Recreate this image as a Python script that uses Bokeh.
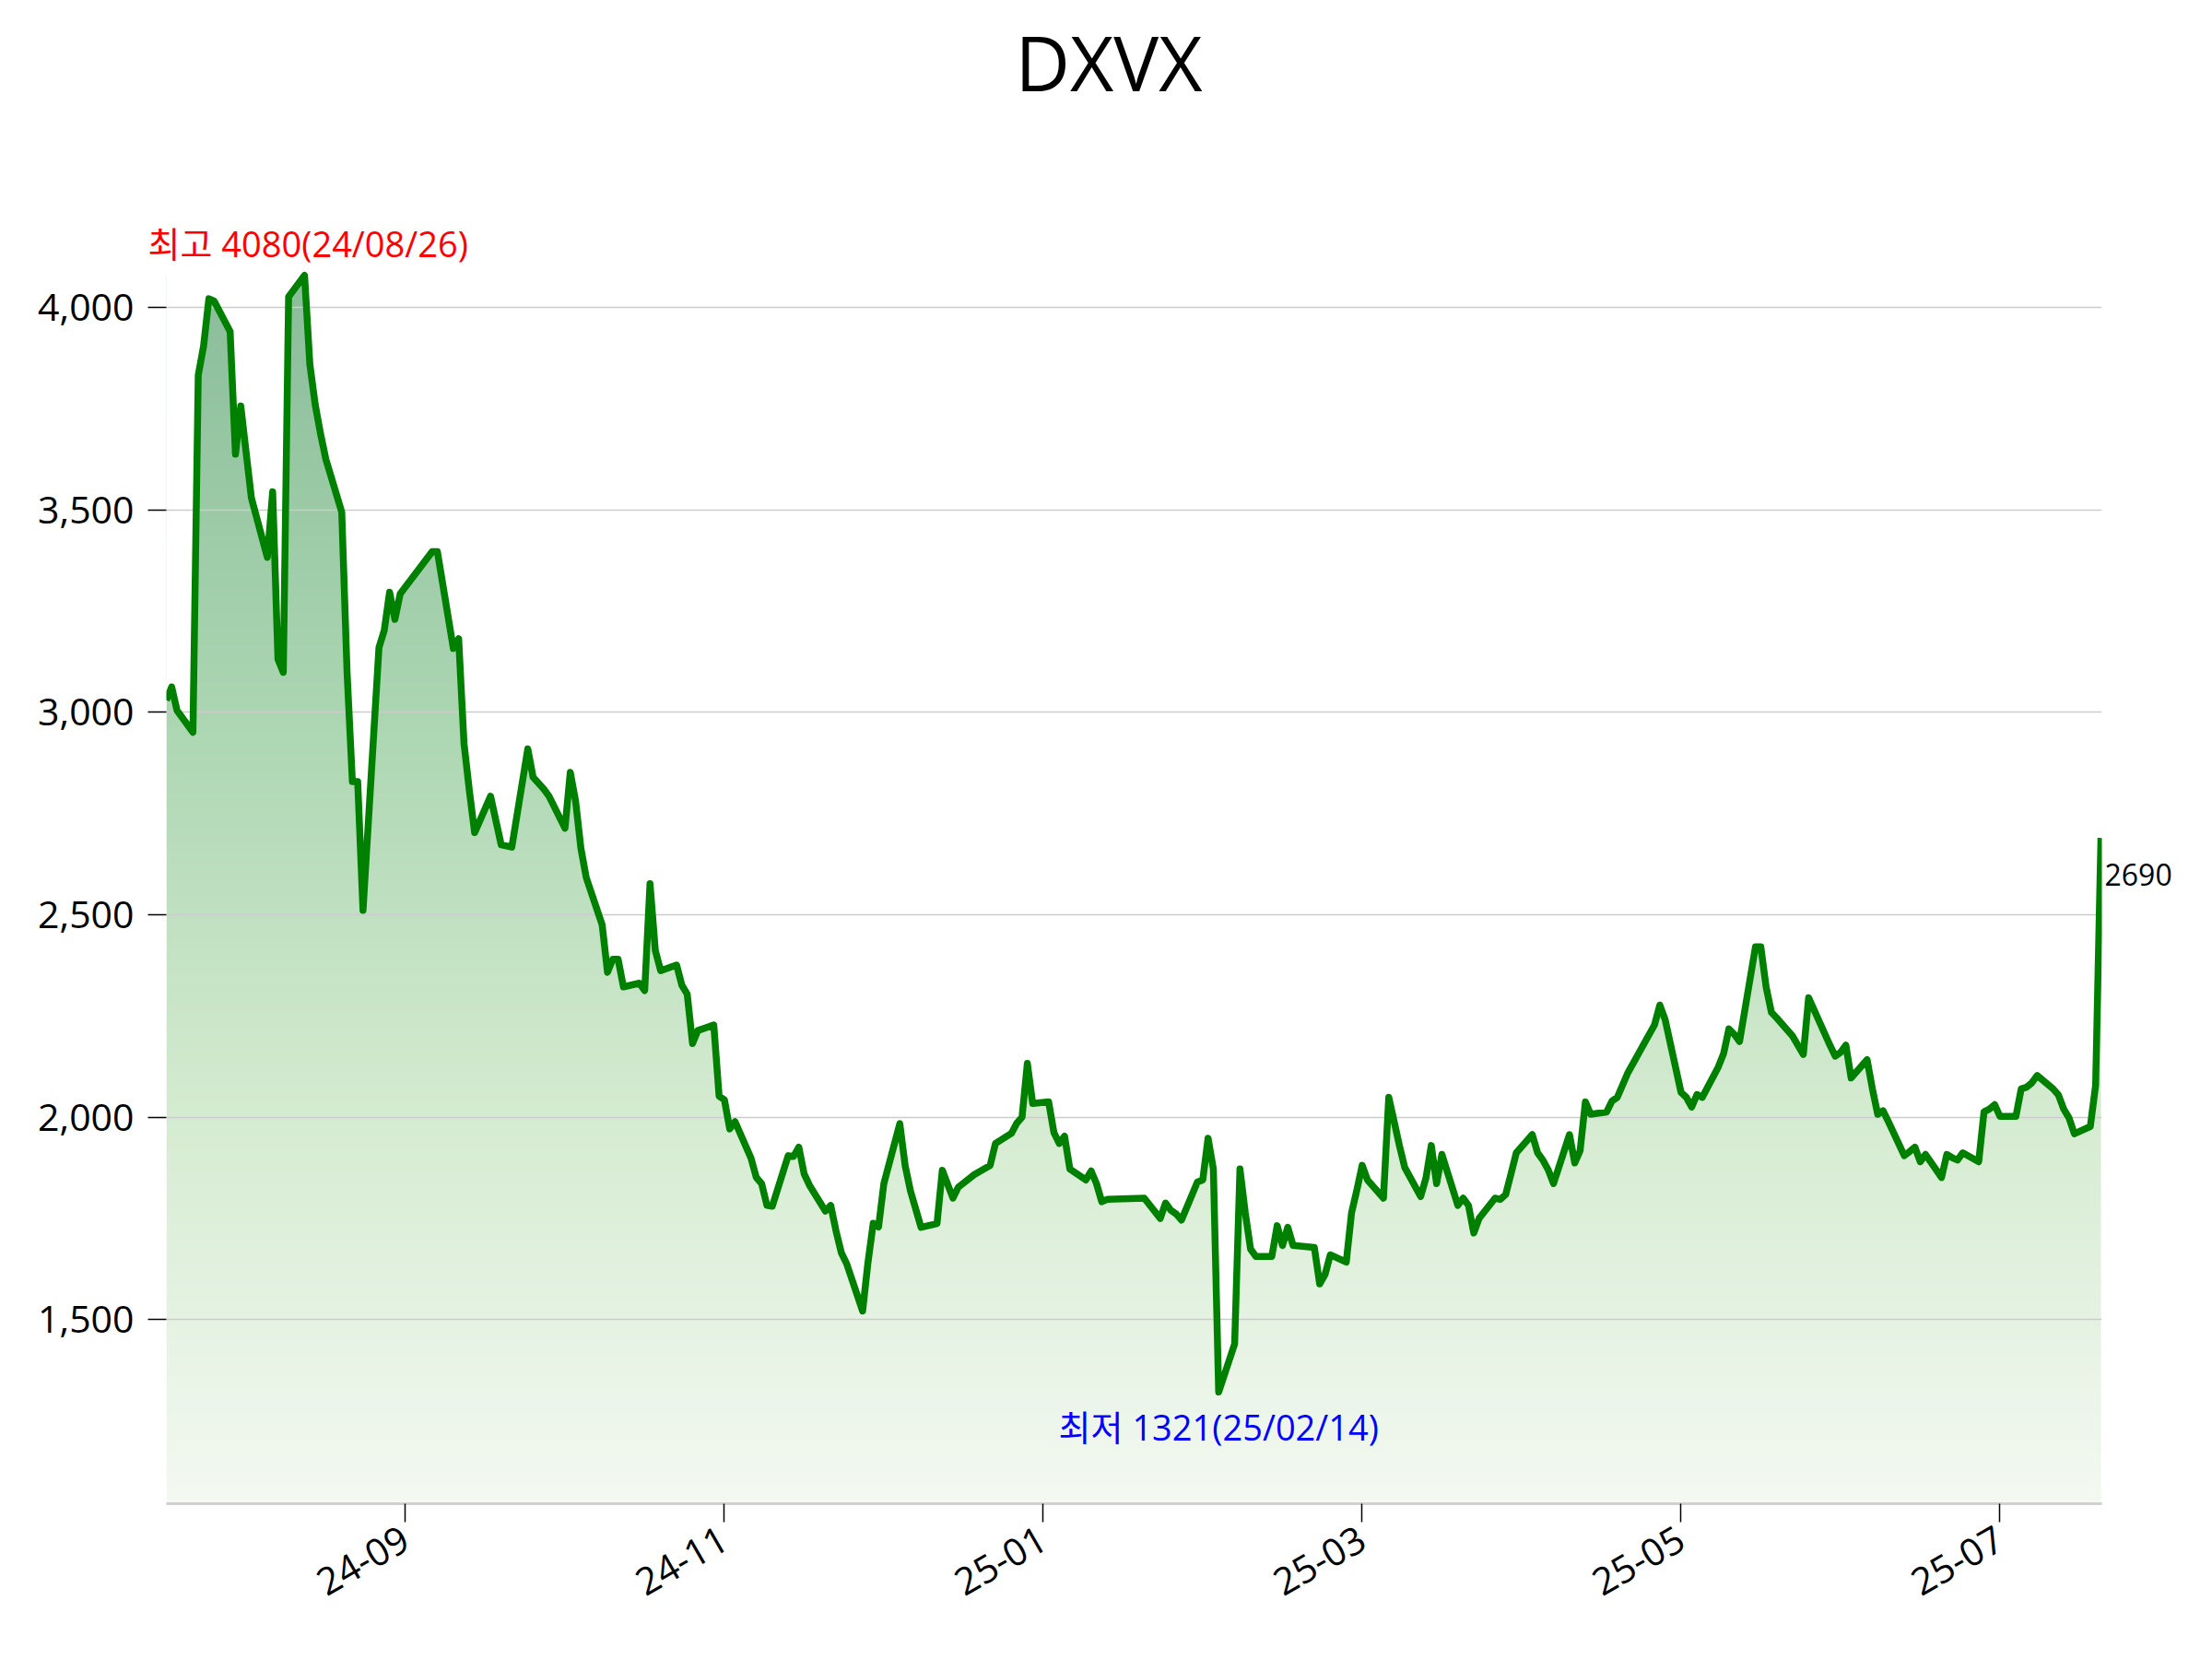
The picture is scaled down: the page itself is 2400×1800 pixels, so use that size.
import math
import numpy as np
import pandas as pd
from bokeh.plotting import figure
from bokeh.models import (Range1d, Label, Title, FixedTicker, DatetimeTickFormatter,
                          NumeralTickFormatter, LinearAxis)
from bokeh.embed import file_html
from bokeh.resources import INLINE

title = "DXVX"

dates = [
    "2024-07-31", "2024-08-01", "2024-08-02", "2024-08-05", "2024-08-06", "2024-08-07", "2024-08-08",
    "2024-08-09", "2024-08-12", "2024-08-13", "2024-08-14", "2024-08-16", "2024-08-19", "2024-08-20",
    "2024-08-21", "2024-08-22", "2024-08-23", "2024-08-26", "2024-08-27", "2024-08-28", "2024-08-29",
    "2024-08-30", "2024-09-02", "2024-09-03", "2024-09-04", "2024-09-05", "2024-09-06", "2024-09-09",
    "2024-09-10", "2024-09-11", "2024-09-12", "2024-09-13", "2024-09-19", "2024-09-20", "2024-09-23",
    "2024-09-24", "2024-09-25", "2024-09-26", "2024-09-27", "2024-09-30", "2024-10-02", "2024-10-04",
    "2024-10-07", "2024-10-08", "2024-10-10", "2024-10-11", "2024-10-14", "2024-10-15", "2024-10-16",
    "2024-10-17", "2024-10-18", "2024-10-21", "2024-10-22", "2024-10-23", "2024-10-24", "2024-10-25",
    "2024-10-28", "2024-10-29", "2024-10-30", "2024-10-31", "2024-11-01", "2024-11-04", "2024-11-05",
    "2024-11-06", "2024-11-07", "2024-11-08", "2024-11-11", "2024-11-12", "2024-11-13", "2024-11-14",
    "2024-11-15", "2024-11-18", "2024-11-19", "2024-11-20", "2024-11-21", "2024-11-22", "2024-11-25",
    "2024-11-26", "2024-11-27", "2024-11-28", "2024-11-29", "2024-12-02", "2024-12-03", "2024-12-04",
    "2024-12-05", "2024-12-06", "2024-12-09", "2024-12-10", "2024-12-11", "2024-12-12", "2024-12-13",
    "2024-12-16", "2024-12-17", "2024-12-18", "2024-12-19", "2024-12-20", "2024-12-23", "2024-12-24",
    "2024-12-26", "2024-12-27", "2024-12-30", "2025-01-02", "2025-01-03", "2025-01-06", "2025-01-07",
    "2025-01-08", "2025-01-09", "2025-01-10", "2025-01-13", "2025-01-14", "2025-01-15", "2025-01-16",
    "2025-01-17", "2025-01-20", "2025-01-21", "2025-01-22", "2025-01-23", "2025-01-24", "2025-01-31",
    "2025-02-03", "2025-02-04", "2025-02-05", "2025-02-06", "2025-02-07", "2025-02-10", "2025-02-11",
    "2025-02-12", "2025-02-13", "2025-02-14", "2025-02-17", "2025-02-18", "2025-02-19", "2025-02-20",
    "2025-02-21", "2025-02-24", "2025-02-25", "2025-02-26", "2025-02-27", "2025-02-28", "2025-03-04",
    "2025-03-05", "2025-03-06", "2025-03-07", "2025-03-10", "2025-03-11", "2025-03-12", "2025-03-13",
    "2025-03-14", "2025-03-17", "2025-03-18", "2025-03-19", "2025-03-20", "2025-03-21", "2025-03-24",
    "2025-03-25", "2025-03-26", "2025-03-27", "2025-03-28", "2025-03-31", "2025-04-01", "2025-04-02",
    "2025-04-03", "2025-04-04", "2025-04-07", "2025-04-08", "2025-04-09", "2025-04-10", "2025-04-11",
    "2025-04-14", "2025-04-15", "2025-04-16", "2025-04-17", "2025-04-18", "2025-04-21", "2025-04-22",
    "2025-04-23", "2025-04-24", "2025-04-25", "2025-04-28", "2025-04-29", "2025-04-30", "2025-05-02",
    "2025-05-07", "2025-05-08", "2025-05-09", "2025-05-12", "2025-05-13", "2025-05-14", "2025-05-15",
    "2025-05-16", "2025-05-19", "2025-05-20", "2025-05-21", "2025-05-22", "2025-05-23", "2025-05-26",
    "2025-05-27", "2025-05-28", "2025-05-29", "2025-05-30", "2025-06-02", "2025-06-04", "2025-06-05",
    "2025-06-09", "2025-06-10", "2025-06-11", "2025-06-12", "2025-06-13", "2025-06-16", "2025-06-17",
    "2025-06-18", "2025-06-19", "2025-06-20", "2025-06-23", "2025-06-24", "2025-06-25", "2025-06-26",
    "2025-06-27", "2025-06-30", "2025-07-01", "2025-07-02", "2025-07-03", "2025-07-04", "2025-07-07",
    "2025-07-08", "2025-07-09", "2025-07-10", "2025-07-11", "2025-07-14", "2025-07-15", "2025-07-16",
    "2025-07-17", "2025-07-18", "2025-07-21", "2025-07-22", "2025-07-23", "2025-07-24", "2025-07-25",
    "2025-07-28", "2025-07-29", "2025-07-30",
]

prices = [
    3030, 3063, 3005, 2951, 3833, 3905, 4022,
    4016, 3941, 3638, 3757, 3530, 3383, 3545,
    3131, 3099, 4027, 4080, 3860, 3761, 3689,
    3626, 3495, 3100, 2829, 2829, 2511, 3160,
    3203, 3297, 3230, 3293, 3397, 3397, 3158,
    3182, 2924, 2808, 2703, 2793, 2673, 2667,
    2910, 2840, 2811, 2793, 2714, 2852, 2781,
    2664, 2592, 2475, 2358, 2390, 2390, 2322,
    2331, 2313, 2577, 2412, 2362, 2376, 2326,
    2304, 2182, 2214, 2228, 2052, 2043, 1971,
    1989, 1899, 1851, 1836, 1782, 1780, 1905,
    1903, 1926, 1860, 1832, 1768, 1782, 1719,
    1665, 1638, 1521, 1640, 1738, 1729, 1836,
    1984, 1881, 1818, 1773, 1728, 1737, 1869,
    1800, 1827, 1858, 1881, 1935, 1960, 1985,
    2000, 2133, 2034, 2038, 1962, 1935, 1953,
    1872, 1845, 1867, 1836, 1791, 1797, 1800,
    1750, 1788, 1770, 1761, 1746, 1840, 1845,
    1948, 1872, 1321, 1440, 1872, 1764, 1674,
    1656, 1656, 1732, 1683, 1728, 1683, 1678,
    1588, 1611, 1660, 1642, 1764, 1820, 1881,
    1845, 1800, 2049, 1990, 1930, 1876, 1804,
    1850, 1930, 1836, 1908, 1782, 1800, 1782,
    1714, 1750, 1800, 1797, 1809, 1860, 1912,
    1957, 1912, 1894, 1870, 1836, 1957, 1887,
    1917, 2038, 2007, 2013, 2040, 2049, 2110,
    2228, 2277, 2241, 2061, 2049, 2025, 2056,
    2049, 2124, 2157, 2218, 2205, 2187, 2421,
    2421, 2322, 2259, 2245, 2200, 2155, 2295,
    2178, 2151, 2160, 2178, 2097, 2142, 2070,
    2007, 2016, 1989, 1905, 1915, 1926, 1890,
    1908, 1851, 1908, 1900, 1894, 1912, 1890,
    2013, 2020, 2031, 2002, 2002, 2070, 2074,
    2085, 2103, 2070, 2055, 2020, 1998, 1959,
    1977, 2079, 2690,
]

tick_dates = ["2024-09-14", "2024-11-13", "2025-01-12", "2025-03-13", "2025-05-12", "2025-07-11"]
y_ticks = [1500, 2000, 2500, 3000, 3500, 4000]

font = "Open Sans, Noto Sans CJK KR"

x = (pd.to_datetime(dates).astype("int64") // 10**6).to_numpy().astype(float)
y = np.array(prices, dtype=float)
tick_ms = [float(pd.Timestamp(d).value // 10**6) for d in tick_dates]

i_hi = int(np.argmax(y))
i_lo = int(np.argmin(y))
hi, lo = prices[i_hi], prices[i_lo]
span = hi - lo

# frame: 180..2280 x 290..1631 px; y scale as if the axis ran lo-10% .. hi+10% over 177..1631
frame_w, frame_h, cut = 2100, 1341, 113
y_start = lo - 0.1 * span
full_top = hi + 0.1 * span
px_per_unit = (frame_h + cut) / (full_top - y_start)
y_end = y_start + frame_h / px_per_unit
x_end = x[-1] + (x[-1] - x[0]) / frame_w   # one pixel of slack on the right

p = figure(width=2400, height=1800, x_axis_type="datetime",
           x_range=Range1d(x[0], x_end), y_range=Range1d(y_start, y_end),
           output_backend="svg", toolbar_location=None,
           min_border_left=180, min_border_right=120,
           min_border_top=290, min_border_bottom=169)
p.outline_line_color = None
p.background_fill_color = "white"

# vertical gradient under the curve: gradient image, then white above the line
rows = 400
lv = np.linspace(y_start, hi, rows)
frac = (lv - y_start) / (hi - y_start)
stops = [0.0, 0.31, 0.64, 1.0]
img = np.empty((rows, 2), dtype=np.uint32)
view = img.view(dtype=np.uint8).reshape((rows, 2, 4))
for ch, vals in enumerate([[244, 214, 172, 138], [249, 236, 214, 189], [242, 210, 178, 154]]):
    view[:, :, ch] = np.interp(frac, stops, vals)[:, None].astype(np.uint8)
view[:, :, 3] = 255
p.image_rgba(image=[img], x=x[0], y=y_start, dw=x[-1] - x[0], dh=hi - y_start, level="image")
pad_x = (x[-1] - x[0]) * 0.05
mx = np.concatenate([[x[0] - pad_x], x, [x[-1] + pad_x]])
my = np.concatenate([[y[0]], y, [y[-1]]])
p.varea(x=mx, y1=my, y2=y_end + 500, fill_color="white", level="image")

p.line(x, y, line_color="#008000", line_width=7.5, line_join="round")

p.xgrid.visible = False
p.ygrid.grid_line_color = "#cccccc"
p.ygrid.grid_line_width = 1.5

p.xaxis.ticker = FixedTicker(ticks=tick_ms)
fmt = "%y-%m"
p.xaxis.formatter = DatetimeTickFormatter(milliseconds=fmt, seconds=fmt, minsec=fmt, minutes=fmt,
                                          hourmin=fmt, hours=fmt, days=fmt, months=fmt, years=fmt)
p.xaxis.major_label_orientation = math.pi / 6
p.xaxis.axis_line_color = "#d0d0d0"
p.xaxis.axis_line_width = 3

p.yaxis.ticker = FixedTicker(ticks=y_ticks)
p.yaxis.formatter = NumeralTickFormatter(format="0,0")
p.yaxis.axis_line_color = None

for ax in (p.xaxis, p.yaxis):
    ax.major_tick_in = 0
    ax.major_tick_out = 20
    ax.major_tick_line_color = "black"
    ax.major_tick_line_width = 1.5
    ax.minor_tick_line_color = None
    ax.major_label_text_font = font
    ax.major_label_text_font_size = "41px"
    ax.major_label_text_color = "black"
    ax.major_label_standoff = 15

# last close, shown to the right of the frame (axis on a shifted range so it sits below the point)
shift = 40 / px_per_unit
p.extra_y_ranges = {"last": Range1d(y_start + shift, y_end + shift)}
last_ax = LinearAxis(y_range_name="last", ticker=FixedTicker(ticks=[prices[-1]]),
                     formatter=NumeralTickFormatter(format="0"))
last_ax.axis_line_color = None
last_ax.major_tick_line_color = None
last_ax.minor_tick_line_color = None
last_ax.major_tick_out = 0
last_ax.major_label_standoff = 3
last_ax.major_label_text_font = font
last_ax.major_label_text_font_size = "32px"
last_ax.major_label_text_color = "black"
p.add_layout(last_ax, "right")

def stamp(d):
    return d[2:].replace("-", "/")

# above the frame: high annotation, a blank spacer axis, then the main title
hi_title = Title(text=f"최고 {hi}({stamp(dates[i_hi])})", text_font=font, text_font_size="38px",
                 text_font_style="normal", text_color="red", align="left", offset=-20, standoff=2)
p.add_layout(hi_title, "above")

spacer = LinearAxis(ticker=FixedTicker(ticks=[x[-1]]))
spacer.major_label_overrides = {x[-1]: ""}
spacer.major_label_text_font_size = "1px"
spacer.axis_line_color = None
spacer.major_tick_line_color = "white"
spacer.minor_tick_line_color = None
spacer.major_tick_in = 0
spacer.major_tick_out = 112
spacer.minor_tick_out = 0
spacer.major_label_standoff = 0
p.add_layout(spacer, "above")

p.title.text = title
p.title.text_font = font
p.title.text_font_size = "82px"
p.title.text_font_style = "normal"
p.title.text_color = "black"
p.title.align = "left"
p.title.offset = 921
p.title.standoff = 0

p.add_layout(Label(x=x[i_lo], y=lo, text=f"최저 {lo}({stamp(dates[i_lo])})", text_font=font,
                   text_font_size="38px", text_color="blue", text_align="center",
                   text_baseline="alphabetic", y_offset=-38))

open("out.html", "w").write(file_html(p, INLINE))
